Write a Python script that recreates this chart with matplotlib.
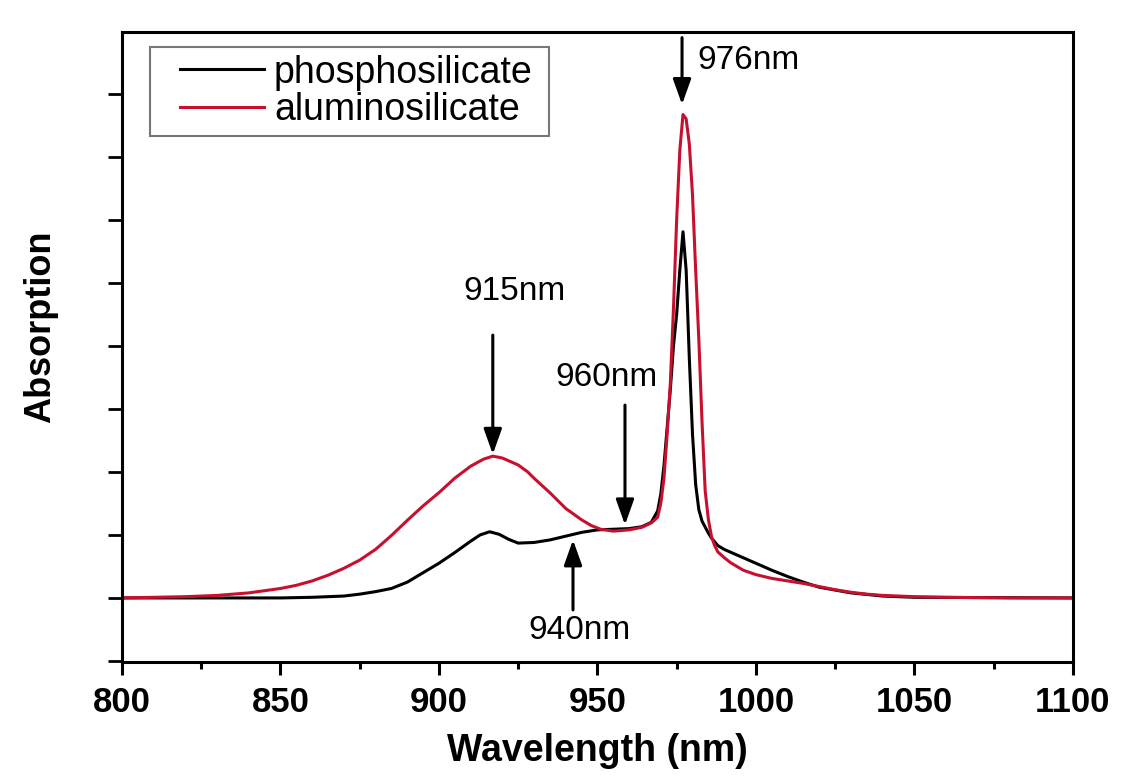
import matplotlib
matplotlib.use("Agg")
import matplotlib.pyplot as plt
from matplotlib.ticker import MultipleLocator, NullFormatter
from matplotlib.legend_handler import HandlerLine2D

plt.rcParams['font.family'] = ['Liberation Sans', 'DejaVu Sans']

# aluminosilicate (red)
wl_al = [800, 810, 820, 830, 840, 850, 855, 860, 865, 870, 875, 880, 885, 890,
         895, 900, 905, 910, 914, 917, 920, 925, 928, 930, 935, 938, 940, 945,
         948, 951, 955, 960, 964, 967, 969, 970, 971, 972, 973, 974, 975, 976,
         977, 978, 979, 980, 981, 982, 983, 984, 985, 986, 987, 988, 990, 992,
         996, 1000, 1005, 1010, 1015, 1020, 1025, 1030, 1035, 1040, 1050, 1060,
         1080, 1100]
ab_al = [0.000, 0.001, 0.002, 0.004, 0.008, 0.015, 0.020, 0.027, 0.036, 0.047,
         0.060, 0.077, 0.099, 0.123, 0.146, 0.167, 0.190, 0.209, 0.220, 0.225,
         0.222, 0.211, 0.200, 0.190, 0.167, 0.152, 0.142, 0.124, 0.115, 0.109,
         0.106, 0.108, 0.112, 0.119, 0.128, 0.150, 0.190, 0.260, 0.340, 0.460,
         0.600, 0.710, 0.767, 0.760, 0.720, 0.640, 0.520, 0.410, 0.280, 0.170,
         0.125, 0.097, 0.083, 0.073, 0.064, 0.056, 0.044, 0.037, 0.031, 0.027,
         0.023, 0.018, 0.013, 0.009, 0.006, 0.004, 0.002, 0.001, 0.000, 0.000]

# phosphosilicate (black)
wl_ph = [800, 850, 860, 870, 875, 880, 885, 890, 895, 900, 905, 910, 913, 916,
         919, 922, 925, 930, 935, 940, 945, 950, 955, 960, 964, 967, 969, 970,
         971, 972, 973, 974, 975, 976, 977, 978, 979, 980, 981, 982, 983, 985,
         986, 988, 990, 995, 1000, 1005, 1010, 1015, 1020, 1030, 1040, 1050,
         1100]
ab_ph = [0.000, 0.000, 0.001, 0.003, 0.006, 0.010, 0.015, 0.025, 0.040, 0.055,
         0.072, 0.090, 0.100, 0.105, 0.101, 0.093, 0.087, 0.088, 0.092, 0.098,
         0.104, 0.108, 0.109, 0.110, 0.113, 0.120, 0.138, 0.165, 0.210, 0.270,
         0.330, 0.400, 0.450, 0.520, 0.581, 0.520, 0.380, 0.260, 0.180, 0.140,
         0.122, 0.103, 0.095, 0.083, 0.077, 0.066, 0.055, 0.044, 0.034, 0.025,
         0.017, 0.008, 0.003, 0.001, 0.000]

RED = '#c8102e'

fig = plt.figure(figsize=(11.24, 7.80), dpi=100)
ax = fig.add_axes([0.1085, 0.151, 0.846, 0.808])

ax.plot(wl_ph, ab_ph, color='black', lw=2.2, label='phosphosilicate')
ax.plot(wl_al, ab_al, color=RED, lw=2.2, label='aluminosilicate')

ax.set_xlim(800, 1100)
ax.set_ylim(-0.102, 0.898)

ax.xaxis.set_major_locator(MultipleLocator(50))
ax.xaxis.set_minor_locator(MultipleLocator(25))
ax.yaxis.set_major_locator(MultipleLocator(0.1))
ax.yaxis.set_major_formatter(NullFormatter())
ax.tick_params(axis='x', which='major', direction='out', length=9, width=2.2,
               labelsize=25, pad=8)
ax.tick_params(axis='x', which='minor', direction='out', length=5, width=2.2)
ax.tick_params(axis='y', which='major', direction='out', length=10, width=2.0)
for lbl in ax.get_xticklabels():
    lbl.set_fontweight('bold')
for sp in ax.spines.values():
    sp.set_linewidth(2.2)

ax.set_xlabel('Wavelength (nm)', fontsize=27, fontweight='bold', labelpad=10)
ax.set_ylabel('Absorption', fontsize=26, fontweight='bold')
ax.yaxis.set_label_coords(-0.067, 0.532)

leg = ax.legend(loc='upper left', fontsize=27, frameon=True, fancybox=False,
                edgecolor='#555555', handlelength=2.85, borderpad=0.2,
                labelspacing=0.05, handletextpad=0.27, borderaxespad=0,
                mode='expand', bbox_to_anchor=(0.029, 0.6, 0.4206, 0.376),
                handler_map={plt.Line2D: HandlerLine2D(xpad=0.62)})
leg.get_frame().set_linewidth(1.5)

arrow = dict(arrowstyle='-|>,head_width=0.25,head_length=0.7', color='black',
             lw=2.2, mutation_scale=22, shrinkA=0, shrinkB=0)

ax.annotate('', xy=(976.7, 0.783), xytext=(976.7, 0.889), arrowprops=arrow)
ax.text(981.4, 0.852, '976nm', fontsize=24, ha='left', va='center')

ax.annotate('', xy=(917, 0.228), xytext=(917, 0.417), arrowprops=arrow)
ax.text(923.7, 0.486, '915nm', fontsize=24, ha='center', va='center')

ax.annotate('', xy=(958.7, 0.116), xytext=(958.7, 0.306), arrowprops=arrow)
ax.text(953, 0.349, '960nm', fontsize=24, ha='center', va='center')

ax.annotate('', xy=(942.3, 0.092), xytext=(942.3, -0.019), arrowprops=arrow)
ax.text(944.5, -0.051, '940nm', fontsize=24, ha='center', va='center')

fig.savefig('out.png', dpi=100)
